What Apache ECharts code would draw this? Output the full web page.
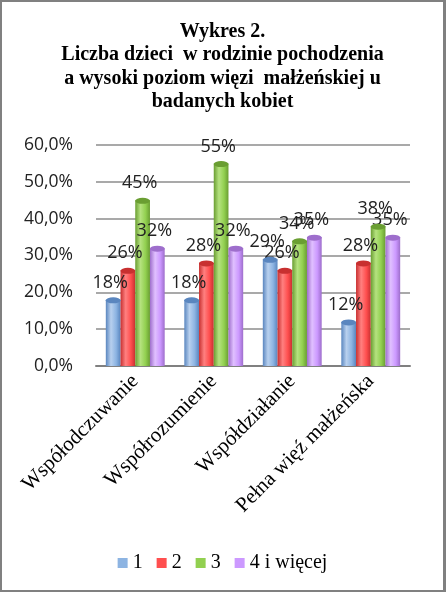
<!DOCTYPE html>
<html>
<head>
<meta charset="utf-8">
<script src="https://cdn.jsdelivr.net/npm/echarts@6/dist/echarts.min.js"></script>
<style>
  html, body { margin: 0; padding: 0; background: #fff; }
  #frame {
    width: 446px; height: 592px; box-sizing: border-box;
    border-style: solid; border-color: #808080;
    border-width: 2px 3px 2px 2px; background: #fff;
  }
  #chart { width: 441px; height: 588px; }
</style>
</head>
<body>
<div id="frame"><div id="chart"></div></div>
<script>
(function() {
  var categories = ['Współodczuwanie', 'Współrozumienie', 'Współdziałanie', 'Pełna więź małżeńska'];
  var seriesNames = ['1', '2', '3', '4 i więcej'];
  var values1 = [18, 18, 29, 12];
  var values2 = [26, 28, 26, 28];
  var values3 = [45, 55, 34, 38];
  var values4 = [32, 32, 35, 35];
  var yTicks = [0, 10, 20, 30, 40, 50, 60];

  var allValues = [values1, values2, values3, values4];
  // cylinder shading: dark edge, light middle, dark edge
  var palette = [
    { base: '#8DB4E2', light: '#B8D0EE', dark: '#5A86BF' },
    { base: '#FF4F4F', light: '#FF8080', dark: '#C83030' },
    { base: '#92D050', light: '#B5E27F', dark: '#6A9E32' },
    { base: '#CC99FF', light: '#E0C0FF', dark: '#9E6ECC' }
  ];

  function cylinder(c) {
    return new echarts.graphic.LinearGradient(0, 0, 1, 0, [
      { offset: 0, color: c.dark },
      { offset: 0.35, color: c.light },
      { offset: 0.7, color: c.base },
      { offset: 1, color: c.dark }
    ]);
  }

  var chart = echarts.init(document.getElementById('chart'), null, { renderer: 'canvas' });

  var series = [];
  allValues.forEach(function(vals, i) {
    series.push({
      name: seriesNames[i],
      type: 'bar',
      data: vals,
      barGap: '0%',
      barCategoryGap: '25%',
      itemStyle: { color: cylinder(palette[i]) },
      label: {
        show: true,
        position: 'top',
        distance: 8,
        offset: [-3, 0],
        formatter: '{c}%',
        color: '#222',
        fontFamily: 'Open Sans',
        fontSize: 18
      },
      animation: false
    });
  });
  // elliptical caps on top of the cylinders
  allValues.forEach(function(vals, i) {
    series.push({
      name: 'cap' + i,
      type: 'pictorialBar',
      data: vals,
      barGap: '0%',
      barCategoryGap: '25%',
      symbol: 'circle',
      symbolSize: ['100%', 6],
      symbolPosition: 'end',
      symbolOffset: [0, '-40%'],
      itemStyle: { color: palette[i].dark },
      z: 3,
      animation: false,
      silent: true
    });
  });

  chart.setOption({
    backgroundColor: '#fff',
    title: {
      text: 'Wykres 2.\nLiczba dzieci  w rodzinie pochodzenia\na wysoki poziom więzi  małżeńskiej u\nbadanych kobiet',
      left: 'center',
      top: 13,
      textStyle: {
        fontFamily: 'Liberation Serif',
        fontWeight: 'bold',
        fontSize: 20,
        lineHeight: 23.5,
        color: '#000'
      }
    },
    legend: {
      data: seriesNames.map(function(n, i) {
        return { name: n, itemStyle: { color: palette[i].base } };
      }),
      bottom: 12,
      left: 'center',
      itemWidth: 10,
      itemHeight: 10,
      itemGap: 14,
      icon: 'rect',
      textStyle: { fontFamily: 'Liberation Serif', fontSize: 20, color: '#000' }
    },
    grid: { left: 94, right: 33, top: 143, bottom: 224 },
    xAxis: {
      type: 'category',
      data: categories,
      axisTick: { show: false },
      axisLine: { lineStyle: { color: '#808080', width: 2 } },
      axisLabel: {
        rotate: 45,
        interval: 0,
        margin: 12,
        fontFamily: 'Liberation Serif',
        fontSize: 21,
        color: '#000'
      }
    },
    yAxis: {
      type: 'value',
      min: 0,
      max: 60,
      interval: 10,
      axisLine: { show: false },
      axisTick: { show: false },
      splitLine: { lineStyle: { color: '#8C8C8C', width: 1.5 } },
      axisLabel: {
        margin: 23,
        fontFamily: 'Open Sans',
        fontSize: 17.5,
        color: '#222',
        formatter: function(v) {
          return yTicks.indexOf(v) >= 0 ? v.toFixed(1).replace('.', ',') + '%' : '';
        }
      }
    },
    series: series
  });

  window.addEventListener('resize', function() { chart.resize(); });
})();
</script>
</body>
</html>
